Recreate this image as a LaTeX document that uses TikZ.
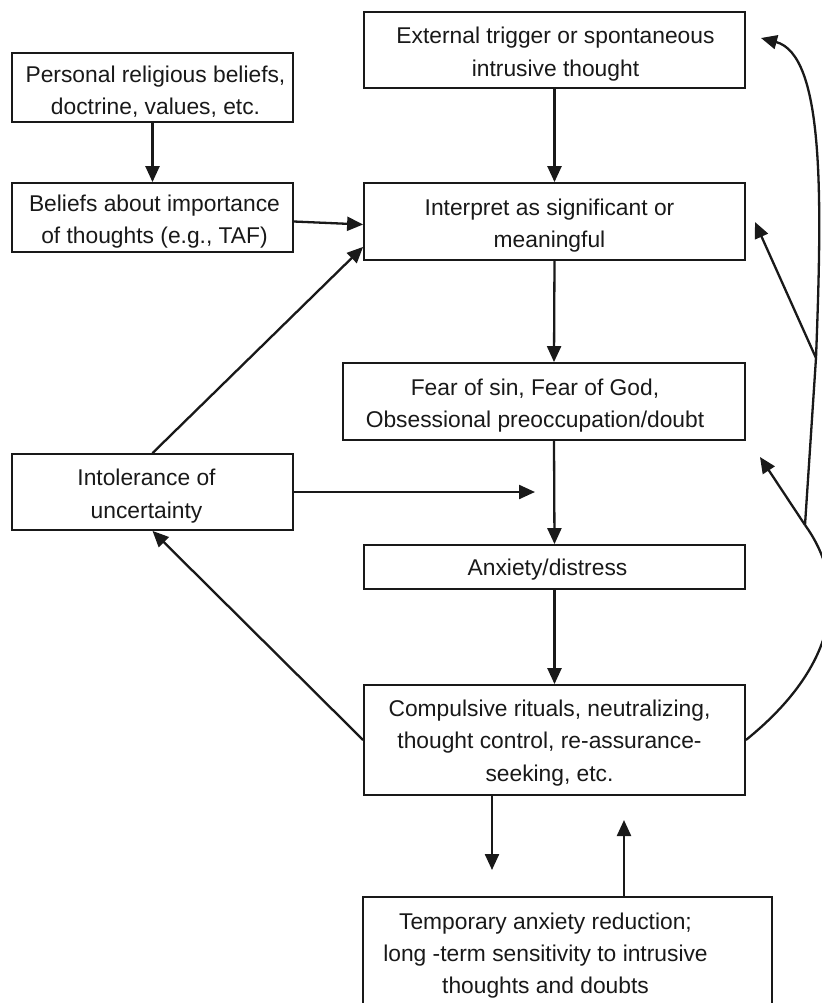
\documentclass[tikz,border=0pt]{standalone}
\usepackage{fontspec}
\setmainfont{Liberation Sans}
\usetikzlibrary{arrows.meta}
\begin{document}
\begin{tikzpicture}[x=0.5pt,y=-0.5pt,
  box/.style={draw=black!90, line width=0.9pt, inner sep=0pt},
  txt/.style={inner sep=0pt, align=center, font=\fontsize{11.4}{16.2}\selectfont, text=black!90},
  conn/.style={draw=black!90, line width=1.15pt},
  arr/.style={conn, -{Triangle[length=8pt,width=7pt]}}]
\useasboundingbox (0,0) rectangle (821,1003);
\fill[white] (0,0) rectangle (821,1003);
% boxes
\node[box, minimum width=190.5pt, minimum height=38pt,
  label={[txt,xshift=0.5pt,yshift=-2pt]center:{External trigger or spontaneous\\intrusive thought}}] (ext) at (554.5,50) {};
\node[box, minimum width=140.5pt, minimum height=34.5pt,
  label={[txt,xshift=1.5pt,yshift=-2pt]center:{Personal religious beliefs,\\ doctrine, values, etc.}}] (pers) at (152.5,87.5) {};
\node[box, minimum width=140.5pt, minimum height=34.5pt,
  label={[txt,xshift=1pt,yshift=-2pt]center:{Beliefs about importance\\ of thoughts (e.g., TAF)}}] (bel) at (152.5,217.5) {};
\node[box, minimum width=190.5pt, minimum height=38.5pt,
  label={[txt,xshift=-2.5pt,yshift=-2pt]center:{Interpret as significant or\\meaningful}}] (interp) at (554.5,221.5) {};
\node[box, minimum width=201pt, minimum height=38.5pt,
  label={[txt,xshift=-4.5pt,yshift=-2pt]center:{Fear of sin, Fear of God,\\Obsessional preoccupation/doubt}}] (fear) at (544,401.5) {};
\node[box, minimum width=140.5pt, minimum height=38pt,
  label={[txt,xshift=-3pt,yshift=-2pt]center:{Intolerance of\\uncertainty}}] (intol) at (152.5,492) {};
\node[box, minimum width=190.5pt, minimum height=22pt,
  label={[txt,xshift=-3.5pt,yshift=-1.5pt]center:{Anxiety/distress}}] (anx) at (554.5,567) {};
\node[box, minimum width=190.5pt, minimum height=55pt,
  label={[txt,xshift=-2.5pt,yshift=-1.5pt]center:{Compulsive rituals, neutralizing,\\thought control, re-assurance-\\seeking, etc.}}] (comp) at (554.5,740) {};
\node[box, minimum width=204.5pt, minimum height=57.5pt,
  label={[txt,xshift=-11pt,yshift=-0.5pt]center:{Temporary anxiety reduction;\\long -term sensitivity to intrusive\\thoughts and doubts}}] (temp) at (567.5,954.5) {};
% free ends and junctions
\coordinate (c1) at (535,492);
\coordinate (d1) at (492,870);
\coordinate (u1) at (624,820);
\coordinate (J1) at (805,525);
\coordinate (J2) at (816,358);
\coordinate (t1) at (760,457);
\coordinate (t2) at (755,222);
\coordinate (t3) at (761,38);
% connectors
\draw[arr] (ext.south) -- (interp.north);
\draw[arr] (pers.south) -- (bel.north);
\draw[arr] ([yshift=-2pt]bel.east) -- ([yshift=-1.5pt]interp.west);
\draw[arr] (intol.north) -- ([yshift=7pt]interp.south west);
\draw[arr] (interp.south) -- ([xshift=5pt]fear.north);
\draw[arr] ([xshift=5pt]fear.south) -- (anx.north);
\draw[arr] (intol.east) -- (c1);
\draw[arr] (anx.south) -- (comp.north);
\draw[arr] (comp.west) -- (intol.south);
\draw[arr] (d1 |- comp.south) -- (d1);
\draw[arr] (u1 |- temp.north) -- (u1);
\draw[conn] (comp.east) .. controls (845,660) and (845,580) .. (J1);
\draw[conn] (J1) -- (J2);
\draw[arr] (J2) .. controls (822,200) and (825,55) .. (t3);
\draw[arr] (J1) -- (t1);
\draw[arr] (J2) -- (t2);
\end{tikzpicture}
\end{document}
